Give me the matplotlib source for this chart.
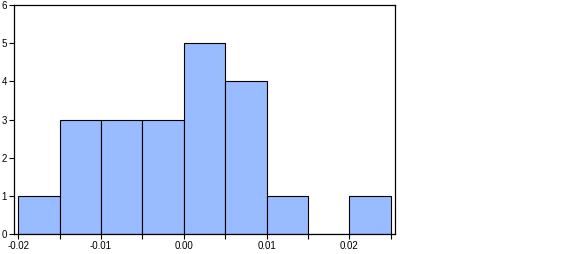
import matplotlib
matplotlib.use("Agg")
import matplotlib.pyplot as plt
import numpy as np

plt.rcParams['font.family'] = ['Liberation Sans', 'DejaVu Sans']

bin_edges = [-0.02, -0.015, -0.01, -0.005, 0.0, 0.005, 0.01, 0.015, 0.02, 0.025]
counts = [1, 3, 3, 3, 5, 4, 1, 0, 1]
xtick_labels = ["-0.02", "-0.01", "0.00", "0.01", "0.02"]
xtick_vals = [-0.02, -0.01, 0.0, 0.01, 0.02]

fig = plt.figure(figsize=(5.68, 2.54), dpi=100)
ax = fig.add_axes([14/568, 20/254, (395-14)/568, (234-5)/254])
lefts = np.array(bin_edges[:-1])
widths = np.diff(bin_edges)
ax.bar(lefts, counts, width=widths, align="edge", color="#99bbff",
       edgecolor="black", linewidth=0.8)
ax.set_xlim(-0.0205, 0.0255)
ax.set_ylim(0, 6)
ax.set_xticks(bin_edges)
labels = []
for v in bin_edges:
    lab = ""
    for t, l in zip(xtick_vals, xtick_labels):
        if abs(v - t) < 1e-9:
            lab = l
    labels.append(lab)
ax.set_xticklabels(labels)
ax.set_yticks(range(0, 7))
ax.tick_params(direction="out", length=3.5, width=0.8, labelsize=7, pad=1.5)
for s in ax.spines.values():
    s.set_linewidth(0.9)
fig.savefig("out.png", dpi=100)
